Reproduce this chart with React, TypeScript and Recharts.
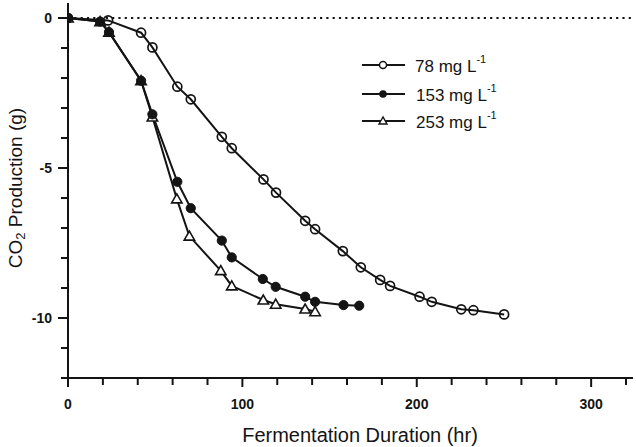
import React from 'react';
import { LineChart, Line, XAxis, YAxis, ReferenceLine } from 'recharts';

const t78 = [0, 23, 41.9, 48.4, 62.7, 70.4, 88.2, 93.9, 112.1, 119.3, 136, 141.7, 157.6, 167.9, 179, 184.7, 201.6, 208.6, 225.5, 232.5, 250.1];
const v78 = [0, -0.08, -0.49, -0.98, -2.29, -2.71, -3.96, -4.34, -5.38, -5.82, -6.76, -7.04, -7.77, -8.31, -8.73, -8.93, -9.29, -9.46, -9.71, -9.74, -9.88];
const t153 = [0, 18.4, 23.5, 41.9, 48.4, 62.7, 70.4, 88.2, 93.9, 111.7, 119.1, 136, 141.7, 158, 167];
const v153 = [0, -0.12, -0.47, -2.09, -3.21, -5.46, -6.34, -7.42, -7.98, -8.7, -8.96, -9.29, -9.46, -9.57, -9.59];
const t253 = [0, 18.4, 23.5, 41.9, 48.4, 62.4, 69.6, 87.6, 93.9, 112, 119.1, 136, 141.7];
const v253 = [0, -0.12, -0.47, -2.09, -3.3, -6.03, -7.27, -8.42, -8.93, -9.4, -9.54, -9.7, -9.79];

const xTicks = [0, 20, 40, 60, 80, 100, 120, 140, 160, 180, 200, 220, 240, 260, 280, 300, 320];
const xMajor = [0, 100, 200, 300];
const yTicks = [-12, -11, -10, -9, -8, -7, -6, -5, -4, -3, -2, -1, 0];
const yMajor = [0, -5, -10];

const seriesNames = ['78 mg L', '153 mg L', '253 mg L'];

const zip = (ts: number[], vs: number[]) => ts.map((t, i) => ({ t, v: vs[i] }));
const d78 = zip(t78, v78);
const d153 = zip(t153, v153);
const d253 = zip(t253, v253);

const INK = '#141414';
const FONT = '"Liberation Sans", Arial, Helvetica, sans-serif';

const XTick = (props: any) => {
  const { x, y, payload } = props;
  const major = xMajor.includes(payload.value);
  return (
    <g>
      <line x1={x} x2={x} y1={y} y2={y + (major ? 9 : 7)} stroke={INK} strokeWidth={2} />
      {major && (
        <text x={x} y={y + 26} textAnchor="middle" dominantBaseline="central" fontWeight="bold" fontSize={14} fontFamily={FONT} fill={INK}>
          {payload.value}
        </text>
      )}
    </g>
  );
};

const YTick = (props: any) => {
  const { x, y, payload } = props;
  const major = yMajor.includes(payload.value);
  return (
    <g>
      <line x1={x} x2={x - (major ? 10 : 7)} y1={y} y2={y} stroke={INK} strokeWidth={2} />
      {major && (
        <text x={x - 16} y={y} textAnchor="end" dominantBaseline="central" fontWeight="bold" fontSize={14} fontFamily={FONT} fill={INK}>
          {payload.value}
        </text>
      )}
    </g>
  );
};

const OpenCircle = (p: any) => (
  <circle key={`o${p.index}`} cx={p.cx} cy={p.cy} r={4.5} fill="none" stroke={INK} strokeWidth={1.7} />
);
const FilledCircle = (p: any) => (
  <circle key={`f${p.index}`} cx={p.cx} cy={p.cy} r={4.6} fill={INK} stroke={INK} strokeWidth={1} />
);
const Triangle = (p: any) => (
  <polygon
    key={`t${p.index}`}
    points={`${p.cx},${p.cy - 5} ${p.cx - 5.2},${p.cy + 4} ${p.cx + 5.2},${p.cy + 4}`}
    fill="#fff"
    stroke={INK}
    strokeWidth={1.6}
  />
);

export default function App() {
  return (
    <div style={{ position: 'absolute', left: 0, top: 0, width: 636, height: 447, background: '#fff' }}>
      <LineChart width={636} height={447} margin={{ top: 3, right: 3, bottom: 0, left: 0 }}>
        <XAxis
          type="number"
          dataKey="t"
          domain={[0, 324]}
          ticks={xTicks}
          interval={0}
          allowDataOverflow
          tickSize={0}
          tickMargin={0}
          tickLine={false}
          tick={<XTick />}
          height={69}
          axisLine={{ stroke: INK, strokeWidth: 2 }}
        />
        <YAxis
          type="number"
          dataKey="v"
          domain={[-12, 0.5]}
          ticks={yTicks}
          interval={0}
          allowDataOverflow
          tickSize={0}
          tickMargin={0}
          tickLine={false}
          tick={<YTick />}
          width={68}
          axisLine={{ stroke: INK, strokeWidth: 2 }}
        />
        <ReferenceLine y={0} stroke={INK} strokeWidth={2.2} strokeDasharray="2.2 4.1" />
        <Line data={d78} dataKey="v" stroke={INK} strokeWidth={2} dot={OpenCircle} isAnimationActive={false} />
        <Line data={d253} dataKey="v" stroke={INK} strokeWidth={2} dot={Triangle} isAnimationActive={false} />
        <Line data={d153} dataKey="v" stroke={INK} strokeWidth={2} dot={FilledCircle} isAnimationActive={false} />
      </LineChart>
      <svg width={636} height={447} style={{ position: 'absolute', left: 0, top: 0, pointerEvents: 'none' }}>
        <text x={360} y={435} textAnchor="middle" dominantBaseline="central" fontSize={20} fontFamily={FONT} fill={INK}>
          Fermentation Duration (hr)
        </text>
        <text
          transform="translate(15,188) rotate(-90)"
          textAnchor="middle"
          dominantBaseline="central"
          fontSize={19}
          fontFamily={FONT}
          fill={INK}
        >
          CO<tspan dy={5} fontSize={13}>2</tspan>
          <tspan dy={-5}> Production (g)</tspan>
        </text>
        {seriesNames.map((name, i) => {
          const y = [65, 94, 121][i];
          return (
            <g key={name}>
              <line x1={362} x2={405} y1={y} y2={y} stroke={INK} strokeWidth={1.8} />
              {i === 0 && <circle cx={383} cy={y} r={3.5} fill="#fff" stroke={INK} strokeWidth={1.5} />}
              {i === 1 && <circle cx={383} cy={y} r={3.8} fill={INK} />}
              {i === 2 && (
                <polygon points={`383,${y - 4} 379,${y + 3} 387,${y + 3}`} fill="#fff" stroke={INK} strokeWidth={1.4} />
              )}
              <text x={i === 0 ? 415 : 416} y={y + 1} dominantBaseline="central" fontSize={17} fontFamily={FONT} fill={INK}>
                {name}
                <tspan dy={-7} fontSize={11}>-1</tspan>
              </text>
            </g>
          );
        })}
      </svg>
    </div>
  );
}
